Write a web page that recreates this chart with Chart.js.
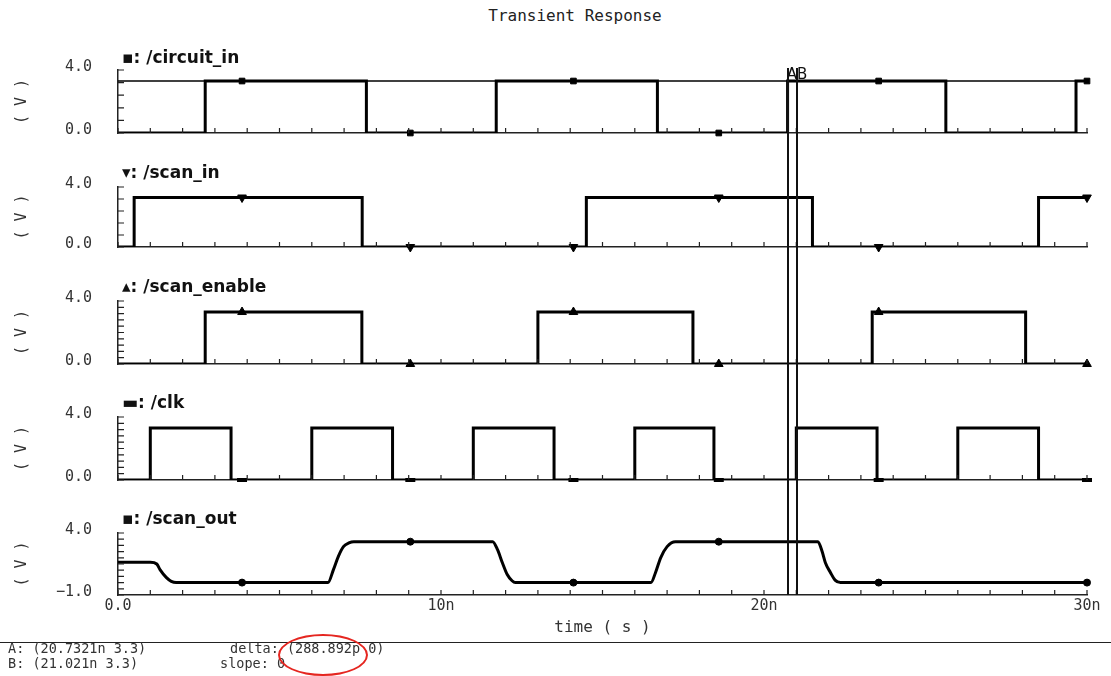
<!DOCTYPE html>
<html>
<head>
<meta charset="utf-8">
<title>Transient Response</title>
<script src="https://cdn.jsdelivr.net/npm/chart.js@4.4.1/dist/chart.umd.min.js"></script>
<style>
  body { margin: 0; background: #fff; width: 1111px; height: 676px; position: relative; overflow: hidden;
         font-family: "DejaVu Sans Mono", monospace; color: #333; }
  canvas { position: absolute; left: 0; }
  .status { position: absolute; font-size: 13.5px; white-space: pre; line-height: 15px; color: #333; }
  #title { position: absolute; left: 575px; top: 6px; transform: translateX(-50%); font-size: 16px;
           line-height: 20px; white-space: pre; color: #222; }
</style>
</head>
<body>
<div id="title">Transient Response</div>
<canvas id="p1" width="1111" height="160" style="top:0px"></canvas>
<canvas id="p2" width="1111" height="115" style="top:160px"></canvas>
<canvas id="p3" width="1111" height="117" style="top:275px"></canvas>
<canvas id="p4" width="1111" height="116" style="top:392px"></canvas>
<canvas id="p5" width="1111" height="134" style="top:508px"></canvas>

<div style="position:absolute;left:0;top:642px;width:1111px;border-top:1.5px solid #222"></div>
<div class="status" style="left:8px;top:641px">A: (20.7321n 3.3)</div>
<div class="status" style="left:8px;top:656px">B: (21.021n 3.3)</div>
<div class="status" style="left:230px;top:641px">delta: (288.892p 0)</div>
<div class="status" style="left:220px;top:656px">slope: 0</div>
<div style="position:absolute;left:278px;top:634px;width:86px;height:38px;border:2px solid #e52620;border-radius:50%"></div>

<script>
// time axis in ns
const xMin = 0, xMax = 30;
const xLabelValues = [0, 10, 20, 30];
const xLabelTexts = ['0.0', '10n', '20n', '30n'];

// cursors A and B (ns)
const cursorA = 20.7321;
const cursorB = 21.021;

// digital traces: time of each change and the level from then on
const circuitInTimes  = [0, 2.7, 7.69, 11.71, 16.7, 20.73, 25.63, 29.66, 30];
const circuitInLevels = [0, 3.3, 0, 3.3, 0, 3.3, 0, 3.3, 3.3];
const circuitInFlatTimes  = [0, 30];
const circuitInFlatLevels = [3.3, 3.3];

const scanInTimes  = [0, 0.5, 7.56, 14.5, 21.5, 28.5, 30];
const scanInLevels = [0, 3.3, 0, 3.3, 0, 3.3, 3.3];

const scanEnableTimes  = [0, 2.7, 7.55, 13.0, 17.8, 23.35, 28.1, 30];
const scanEnableLevels = [0, 3.3, 0, 3.3, 0, 3.3, 0, 0];

const clkTimes  = [0, 1.0, 3.5, 6.0, 8.5, 11.0, 13.5, 16.0, 18.45, 21.0, 23.5, 26.0, 28.5, 30];
const clkLevels = [0, 3.3, 0, 3.3, 0, 3.3, 0, 3.3, 0, 3.3, 0, 3.3, 0, 0];

// analog output
const scanOutTimes  = [0, 1.0, 1.2, 1.3, 1.5, 1.65, 1.8, 6.5, 6.67, 6.82, 6.98, 7.15, 7.3,
                       11.6, 11.75, 11.9, 12.05, 12.2, 12.3, 16.5, 16.64, 16.8, 17.0, 17.26,
                       21.67, 21.8, 21.9, 22.06, 22.2, 22.37, 30];
const scanOutValues = [1.65, 1.65, 1.5, 1.05, 0.4, 0.1, 0, 0, 1.05, 2.1, 2.9, 3.2, 3.3,
                       3.3, 2.65, 1.6, 0.65, 0.15, 0, 0, 0.8, 2.0, 2.9, 3.3,
                       3.3, 2.5, 1.6, 0.8, 0.2, 0, 0];

// trace markers
const markerTimes      = [3.84, 9.05, 14.1, 18.6, 23.55, 30];
const circuitInMarks   = [3.3, 0, 3.3, 0, 3.3, 3.3];
const scanInMarks      = [3.3, 0, 0, 3.3, 0, 3.3];
const scanEnableMarks  = [3.3, 0, 3.3, 0, 3.3, 0];
const clkMarks         = [0, 0, 0, 0, 0, 0];
const scanOutMarks     = [0, 3.3, 0, 3.3, 0, 0];

// y ranges per panel
const panelNames  = ['/circuit_in', '/scan_in', '/scan_enable', '/clk', '/scan_out'];
const panelGlyphs = ['\u25AA', '\u25BE', '\u25B4', '\u25AC', '\u25AA'];
const yMins  = [0, 0, 0, 0, -1];
const yMaxs  = [4, 4, 4, 4, 4];
const ySteps = [0.8, 0.8, 0.4, 0.4, 0.5];

Chart.defaults.font.family = '"DejaVu Sans Mono", monospace';
Chart.defaults.color = '#333';

const pts = (xs, ys) => xs.map((x, i) => ({ x: x, y: ys[i] }));

const inwardTicks = {
  id: 'inwardTicks',
  afterDatasetsDraw(chart) {
    const { ctx, chartArea, scales: { x, y } } = chart;
    ctx.save();
    ctx.strokeStyle = '#222';
    ctx.lineWidth = 1.2;
    ctx.beginPath();
    x.ticks.forEach(t => {
      const px = x.getPixelForValue(t.value);
      ctx.moveTo(px, chartArea.bottom);
      ctx.lineTo(px, chartArea.bottom - 5);
    });
    y.ticks.forEach(t => {
      const py = y.getPixelForValue(t.value);
      ctx.moveTo(chartArea.left, py);
      ctx.lineTo(chartArea.left + 6, py);
    });
    ctx.stroke();
    ctx.restore();
  }
};

const panelLabel = {
  id: 'panelLabel',
  afterDraw(chart, args, opts) {
    const { ctx, chartArea } = chart;
    ctx.save();
    ctx.font = 'bold 17px "DejaVu Sans"';
    ctx.fillStyle = '#111';
    ctx.textBaseline = 'middle';
    ctx.fillText(opts.text, chartArea.left + 4, chartArea.top - opts.lift);
    ctx.restore();
  }
};

const cursors = {
  id: 'cursors',
  afterDraw(chart, args, opts) {
    const { ctx, chartArea, scales: { x } } = chart;
    const top = opts.fromArea ? chartArea.top - 2 : 0;
    const bottom = opts.toArea ? chartArea.bottom : chart.height;
    ctx.save();
    ctx.strokeStyle = '#111';
    ctx.lineWidth = 2;
    ctx.beginPath();
    [cursorA, cursorB].forEach(v => {
      const px = Math.round(x.getPixelForValue(v));
      ctx.moveTo(px, top);
      ctx.lineTo(px, bottom);
    });
    ctx.stroke();
    if (opts.label) {
      ctx.font = '15px "DejaVu Sans"';
      ctx.fillStyle = '#111';
      ctx.textBaseline = 'middle';
      ctx.fillText('AB', x.getPixelForValue(cursorA) - 1, chartArea.top + 5);
    }
    ctx.restore();
  }
};

function trace(data, stepped) {
  return {
    data: data,
    borderColor: '#000',
    borderWidth: 3,
    pointRadius: 0,
    stepped: stepped,
    cubicInterpolationMode: stepped ? 'default' : 'monotone',
    borderJoinStyle: 'miter'
  };
}

function marks(data, style, radius, rotation) {
  return {
    data: data,
    showLine: false,
    pointStyle: style,
    pointRadius: radius,
    pointRotation: rotation || 0,
    pointBackgroundColor: '#000',
    pointBorderColor: '#000',
    pointBorderWidth: style === 'line' ? 4 : 1,
    clip: false
  };
}

const panelLayout = [
  { id: 'p1', padTop: 70, padBottom: 27, lift: 11 },
  { id: 'p2', padTop: 27, padBottom: 28, lift: 13 },
  { id: 'p3', padTop: 26, padBottom: 28, lift: 13 },
  { id: 'p4', padTop: 25, padBottom: 28, lift: 13 },
  { id: 'p5', padTop: 25, padBottom: 0,  lift: 13 }
];

const panelDatasets = [
  [trace(pts(circuitInFlatTimes, circuitInFlatLevels), false),
   trace(pts(circuitInTimes, circuitInLevels), true),
   marks(pts(markerTimes, circuitInMarks), 'rect', 4)],
  [trace(pts(scanInTimes, scanInLevels), true),
   marks(pts(markerTimes, scanInMarks), 'triangle', 5, 180)],
  [trace(pts(scanEnableTimes, scanEnableLevels), true),
   marks(pts(markerTimes, scanEnableMarks), 'triangle', 5)],
  [trace(pts(clkTimes, clkLevels), true),
   marks(pts(markerTimes, clkMarks), 'line', 5)],
  [trace(pts(scanOutTimes, scanOutValues), false),
   marks(pts(markerTimes, scanOutMarks), 'circle', 3.5)]
];
panelDatasets[0][0].borderWidth = 1.6;

panelLayout.forEach((lay, i) => {
  const isFirst = i === 0;
  const isLast = i === panelLayout.length - 1;
  const yMin = yMins[i], yMax = yMaxs[i];
  new Chart(document.getElementById(lay.id), {
    type: 'line',
    data: { datasets: panelDatasets[i] },
    plugins: [inwardTicks, panelLabel, cursors],
    options: {
      responsive: false,
      animation: false,
      layout: { padding: { left: 0, right: 24, top: lay.padTop, bottom: lay.padBottom } },
      scales: {
        x: {
          type: 'linear',
          min: xMin,
          max: xMax,
          grid: { display: false, drawTicks: false },
          border: { display: true, color: '#222', width: 1.5 },
          ticks: {
            display: isLast,
            stepSize: 1,
            autoSkip: false,
            maxRotation: 0,
            padding: 2,
            font: { size: 15 },
            color: '#333',
            callback: v => {
              const k = xLabelValues.indexOf(v);
              return k >= 0 ? xLabelTexts[k] : '';
            }
          },
          title: {
            display: isLast,
            text: 'time ( s )',
            font: { size: 16 },
            color: '#333',
            padding: { top: 3, bottom: 4.4 }
          },
          afterFit: s => { if (isLast) s.height = 47; }
        },
        y: {
          min: yMin,
          max: yMax,
          grid: { display: false, drawTicks: false },
          border: { display: true, color: '#222', width: 1.5 },
          ticks: {
            stepSize: ySteps[i],
            autoSkip: false,
            padding: 26,
            labelOffset: -3,
            font: { size: 15 },
            color: '#333',
            callback: v => {
              if (Math.abs(v - yMax) < 1e-6 || Math.abs(v - yMin) < 1e-6) {
                return (v < 0 ? '\u2212' : '') + Math.abs(v).toFixed(1);
              }
              return '';
            }
          },
          title: {
            display: true,
            text: '( V )',
            font: { size: 15 },
            color: '#333',
            padding: { top: 13, bottom: 0 }
          },
          // fixed axis width, and no extra room for the end labels
          afterFit: s => { s.width = 118; s.paddingTop = 0; s.paddingBottom = 0; }
        }
      },
      plugins: {
        legend: { display: false },
        tooltip: { enabled: false },
        title: { display: false },
        panelLabel: { text: panelGlyphs[i] + ': ' + panelNames[i], lift: lay.lift },
        cursors: { fromArea: isFirst, toArea: isLast, label: isFirst }
      }
    }
  });
});
</script>
</body>
</html>
